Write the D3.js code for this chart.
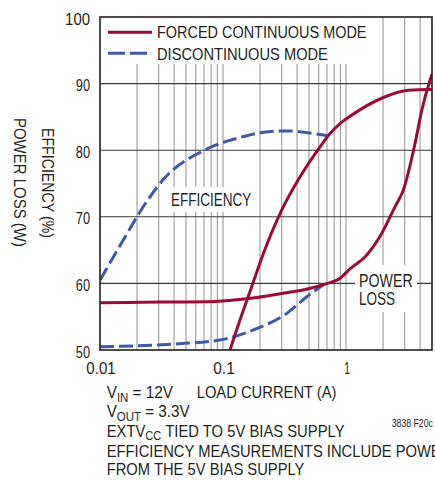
<!DOCTYPE html>
<html><head><meta charset="utf-8">
<script src="https://cdn.jsdelivr.net/npm/d3@7"></script>
<style>
html,body{margin:0;padding:0;background:#fff;overflow:hidden}
svg{display:block}
text{font-family:"Liberation Sans Narrow","Liberation Sans",Arial,sans-serif;fill:#231f20}
</style></head><body>
<svg id="chart" width="435" height="483"></svg>
<script>
// Load current (A) vs efficiency (%) and power loss, LTC3838 style plot
const yTickValues = [50, 60, 70, 80, 90, 100];
const xTickValues = [0.01, 0.1, 1];
const xTickLabels = ["0.01", "0.1", "1"];

// [load current A, axis value]
const effForced = [[0.114,50],[0.13,53.2],[0.171,59.5],[0.213,64.5],[0.30,71.0],[0.423,76.0],[0.615,80.5],[0.741,82.5],[0.894,84.0],[1.1,85.2],[1.95,87.8],[3.21,89.0],[4.67,89.1],[5,89.1]];
const effDiscont = [[0.01,60.5],[0.0125,63.6],[0.017,67.8],[0.0204,70.3],[0.0255,73.0],[0.0327,75.6],[0.042,77.5],[0.061,79.4],[0.083,80.6],[0.11,81.4],[0.137,81.9],[0.213,82.7],[0.33,82.9],[0.54,82.5],[0.70,82.2]];
const lossForced = [[0.01,57.1],[0.03,57.2],[0.086,57.3],[0.176,57.8],[0.33,58.6],[0.494,59.2],[0.675,59.9],[0.9,60.8],[1.08,62.2],[1.43,64.0],[1.95,67.5],[2.5,71.5],[2.92,74.0],[3.64,81.0],[4.13,86.0],[4.82,90.5],[5,91.4]];
const lossDiscont = [[0.01,50.5],[0.04,50.9],[0.094,51.5],[0.176,53.0],[0.33,55.5],[0.48,58.0],[0.655,59.8]];

const RED = "#9c0b36", BLUE = "#3d5aa8", INK = "#231f20";

const svg = d3.select("#chart");
const x = d3.scaleLog().domain([0.01, 5]).range([100, 432]);
const y = d3.scaleLinear().domain([50, 100]).range([350, 17]);

// scale a text element horizontally so it spans the given width
function fit(t, x0, y0, w, rot) {
  const bw = t.node().getBBox().width;
  const k = w / bw;
  t.attr("x", 0).attr("y", 0)
   .attr("transform", `translate(${x0},${y0})${rot ? ` rotate(${rot})` : ""} scale(${k},1)`);
  return t;
}
function label(str, x0, y0, w, size, anchor, rot) {
  const t = svg.append("text").attr("font-size", size).attr("text-anchor", anchor || "start").text(str);
  return fit(t, x0, y0, w, rot);
}

// vertical grid (log minors), stopping under the legend
const gx = x.ticks().filter(v => v > 0.01 && v < 5);
svg.append("g").selectAll("line").data(gx).join("line")
  .attr("x1", d => x(d)).attr("x2", d => x(d))
  .attr("y1", d => x(d) < 372 ? 64 : y(100)).attr("y2", y(50))
  .attr("stroke", "#9a9a9a").attr("stroke-width", 1.1);

// horizontal grid
svg.append("g").selectAll("line").data(yTickValues.filter(v => v > 50 && v < 100)).join("line")
  .attr("x1", x(0.01)).attr("x2", x(5))
  .attr("y1", d => y(d)).attr("y2", d => y(d))
  .attr("stroke", "#3a3a3a").attr("stroke-width", 1.1);

// white backing behind in-plot labels
svg.append("rect").attr("x", 166).attr("y", 187).attr("width", 92).attr("height", 25).attr("fill", "#fff");
svg.append("rect").attr("x", 355).attr("y", 265).attr("width", 62).attr("height", 47).attr("fill", "#fff");

// curves
svg.append("clipPath").attr("id", "plot").append("rect")
  .attr("x", 100).attr("y", 17).attr("width", 332).attr("height", 333);
const line = d3.line().x(d => x(d[0])).y(d => y(d[1])).curve(d3.curveMonotoneX);
const curves = svg.append("g").attr("clip-path", "url(#plot)");
curves.append("path").attr("d", line(effDiscont)).attr("fill", "none")
  .attr("stroke", BLUE).attr("stroke-width", 3).attr("stroke-dasharray", "14,5");
curves.append("path").attr("d", line(lossDiscont)).attr("fill", "none")
  .attr("stroke", BLUE).attr("stroke-width", 3).attr("stroke-dasharray", "14,5");
curves.append("path").attr("d", line(effForced)).attr("fill", "none")
  .attr("stroke", RED).attr("stroke-width", 3);
curves.append("path").attr("d", line(lossForced)).attr("fill", "none")
  .attr("stroke", RED).attr("stroke-width", 3);

// frame
svg.append("rect").attr("x", 100).attr("y", 17).attr("width", 332).attr("height", 333)
  .attr("fill", "none").attr("stroke", INK).attr("stroke-width", 1.6);

// legend
svg.append("line").attr("x1", 108).attr("x2", 152).attr("y1", 32.3).attr("y2", 32.3)
  .attr("stroke", RED).attr("stroke-width", 3);
svg.append("line").attr("x1", 108).attr("x2", 152).attr("y1", 53.3).attr("y2", 53.3)
  .attr("stroke", BLUE).attr("stroke-width", 3).attr("stroke-dasharray", "17,5");
label("FORCED CONTINUOUS MODE", 157, 38.3, 209.7, 17);
label("DISCONTINUOUS MODE", 157, 60, 171, 17);

// in-plot labels
label("EFFICIENCY", 171, 206, 80.7, 17.5);
label("POWER", 359, 286.7, 53.7, 18);
label("LOSS", 359, 305, 36, 18);

// y ticks
const yTickWidths = {50: 14.3, 60: 14.3, 70: 14.3, 80: 14.3, 90: 14.3, 100: 25};
yTickValues.forEach(v => label(String(v), 90, y(v) + 7.6, yTickWidths[v], 16, "end"));

// x ticks
const xTickWidths = [29.4, 21.6, 5.7];
xTickValues.forEach((v, i) => label(xTickLabels[i], x(v) + 1, 374, xTickWidths[i], 16, "middle"));

// y titles
label("POWER LOSS (W)", 14, 118, 129, 16, "start", 90);
label("EFFICIENCY (%)", 42, 128, 110, 16, "start", 90);

// notes under the axis
function sub(main, subText, rest) {
  const t = svg.append("text").attr("font-size", 16);
  t.append("tspan").text(main);
  t.append("tspan").attr("font-size", 12).attr("dy", 3.4).text(subText);
  t.append("tspan").attr("dy", -3.4).text(rest);
  return t;
}
fit(sub("V", "IN", " = 12V"), 106.7, 398.3, 66.6);
label("LOAD CURRENT (A)", 196.7, 398.3, 140, 16);
fit(sub("V", "OUT", " = 3.3V"), 106.7, 417.3, 83.3);
fit(sub("EXTV", "CC", " TIED TO 5V BIAS SUPPLY"), 106.7, 436.7, 238.3);
label("FROM THE 5V BIAS SUPPLY", 106.7, 475, 198.3, 16);
// same horizontal scale as the last line; runs past the right edge
const probe = svg.append("text").attr("font-size", 16).text("FROM THE 5V BIAS SUPPLY");
const kFrom = 198.3 / probe.node().getBBox().width; probe.remove();
svg.append("text").attr("font-size", 16).attr("x", 0).attr("y", 0)
  .attr("transform", `translate(106.7,456.7) scale(${kFrom},1)`)
  .text("EFFICIENCY MEASUREMENTS INCLUDE POWER");
label("3838 F20c", 391.7, 427, 41.3, 10.5);
</script>
</body></html>
